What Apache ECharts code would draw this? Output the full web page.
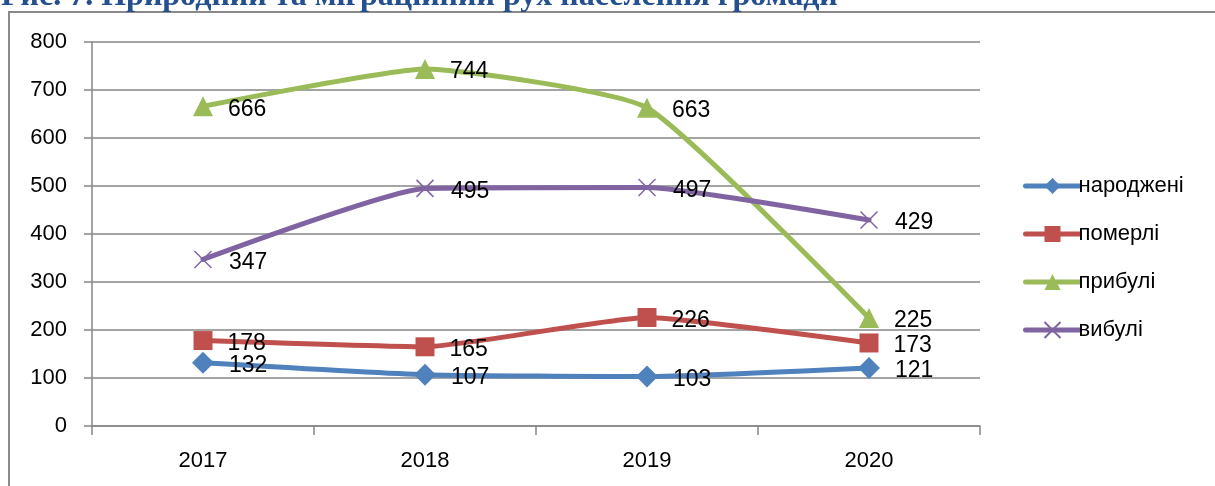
<!DOCTYPE html>
<html>
<head>
<meta charset="utf-8">
<script src="https://cdn.jsdelivr.net/npm/echarts@6/dist/echarts.min.js"></script>
<style>
  html, body { margin: 0; padding: 0; background: #fff; }
  #chart { width: 1215px; height: 486px; }
</style>
</head>
<body>
<div id="chart"></div>
<script>
const years = ['2017', '2018', '2019', '2020'];
const born = [132, 107, 103, 121];
const died = [178, 165, 226, 173];
const arrived = [666, 744, 663, 225];
const departed = [347, 495, 497, 429];

const titleText = 'Рис. 7. Природний та міграційний рух населення громади';
const font = 'Liberation Sans, Arial, sans-serif';

function makeSeries(name, data, color, symbol, size, extraItem) {
  return {
    name,
    type: 'line',
    data,
    smooth: 0.15,
    symbol,
    symbolSize: size,
    showAllSymbol: true,
    lineStyle: { color, width: 5, cap: 'round' },
    itemStyle: Object.assign({ color }, extraItem || {}),
    label: {
      show: true,
      position: 'right',
      distance: 15,
      offset: [0, 3],
      color: '#000',
      fontSize: 23,
      fontFamily: font
    },
    emphasis: { disabled: true },
    z: 3
  };
}

const chart = echarts.init(document.getElementById('chart'));
chart.setOption({
  animation: false,
  backgroundColor: '#fff',
  graphic: [
    {
      type: 'rect',
      shape: { x: 9, y: 12, width: 1400, height: 700 },
      style: { fill: 'none', stroke: '#8a8a8a', lineWidth: 2 },
      silent: true
    },
    {
      type: 'text',
      x: 1,
      y: -3,
      style: {
        text: titleText,
        font: 'bold 32px "Liberation Serif", "Times New Roman", serif',
        fill: '#24508e',
        verticalAlign: 'middle'
      },
      silent: true
    }
  ],
  grid: { left: 92, right: 235, top: 42, bottom: 60 },
  legend: {
    orient: 'vertical',
    left: 1018,
    top: 170,
    itemWidth: 54,
    itemHeight: 20,
    itemGap: 26,
    lineStyle: { width: 5 },
    textStyle: { fontSize: 22, fontFamily: font, color: '#000', padding: [0, 0, 0, -6] },
    data: ['народжені', 'померлі', 'прибулі', 'вибулі']
  },
  xAxis: {
    type: 'category',
    data: years,
    boundaryGap: true,
    axisLine: { lineStyle: { color: '#868686', width: 1.5 } },
    axisTick: { show: true, length: 9, lineStyle: { color: '#868686', width: 1.5 } },
    axisLabel: { color: '#000', fontSize: 22, fontFamily: font, margin: 24 },
    splitLine: { show: false }
  },
  yAxis: {
    type: 'value',
    min: 0,
    max: 800,
    interval: 100,
    axisLine: { show: true, lineStyle: { color: '#868686', width: 1.5 } },
    axisTick: { show: true, length: 8, lineStyle: { color: '#868686', width: 1.5 } },
    axisLabel: { color: '#000', fontSize: 22, fontFamily: font, margin: 25 },
    splitLine: { show: true, lineStyle: { color: '#868686', width: 1.5 } }
  },
  series: [
    makeSeries('народжені', born, '#4f81bd', 'diamond', 22),
    makeSeries('померлі', died, '#c0504d', 'rect', 19),
    makeSeries('прибулі', arrived, '#9bbb59', 'triangle', 20),
    makeSeries('вибулі', departed, '#8064a2', 'path://M0,0L10,10M10,0L0,10', 17,
      { borderColor: '#8064a2', borderWidth: 1.5, color: 'none' })
  ]
});
</script>
</body>
</html>
